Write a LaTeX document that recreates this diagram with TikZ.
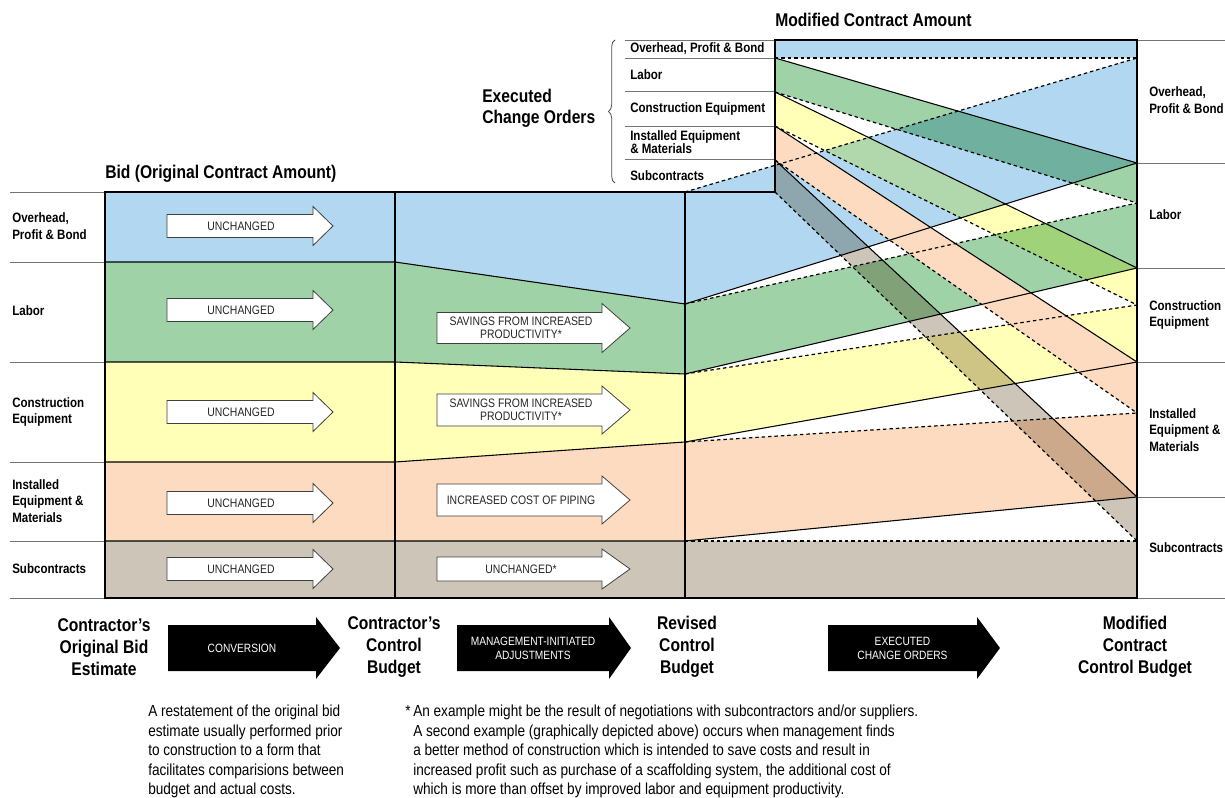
\documentclass[tikz,border=0pt]{standalone}
\usepackage{fontspec}
\setmainfont{Liberation Sans}[FakeStretch=0.85]
\usetikzlibrary{decorations.pathreplacing}

\definecolor{ohblue}{RGB}{177,216,240}
\definecolor{labgreen}{RGB}{160,210,168}
\definecolor{ceyellow}{RGB}{255,255,184}
\definecolor{iempeach}{RGB}{253,219,192}
\definecolor{subgray}{RGB}{206,197,185}

\begin{document}
\begin{tikzpicture}[x=0.75pt,y=-0.75pt,
  frame/.style={line width=1.6pt,line join=miter},
  divider/.style={line width=0.8pt},
  dashdiv/.style={line width=0.9pt,dash pattern=on 2.6pt off 2.2pt},
  sideline/.style={line width=0.7pt,black!55},
  arrowbox/.style={fill=white,draw=black!75,line width=0.6pt},
  rowlabel/.style={anchor=west,align=left,inner sep=0pt,font=\fontsize{10.2}{12.6}\selectfont\bfseries},
  titletext/.style={anchor=west,align=left,inner sep=0pt,font=\fontsize{13.8}{16}\selectfont\bfseries},
  stagelabel/.style={align=center,inner sep=0pt,font=\fontsize{13.8}{16.5}\selectfont\bfseries},
  arrowtext/.style={align=center,inner sep=0pt,text=black!85,font=\fontsize{9.2}{9.8}\selectfont},
  blacktext/.style={align=center,inner sep=0pt,text=white,font=\fontsize{9}{10.5}\selectfont},
  notetext/.style={anchor=north west,align=left,inner sep=0pt,font=\fontsize{12}{14.6}\selectfont}]

\useasboundingbox (0,0) rectangle (1225,798);

% bid column
\foreach \ya/\yb/\col in {192/262/ohblue,262/362/labgreen,362/462/ceyellow,462/541/iempeach,541/598/subgray}
  \fill[\col] (105,\ya) rectangle (395,\yb);

% control budget
\fill[ohblue] (395,192) -- (685,192) -- (685,304) -- (395,262) -- cycle;
\fill[labgreen] (395,262) -- (685,304) -- (685,374) -- (395,362) -- cycle;
\fill[ceyellow] (395,362) -- (685,374) -- (685,442) -- (395,462) -- cycle;
\fill[iempeach] (395,462) -- (685,442) -- (685,541) -- (395,541) -- cycle;
\fill[subgray] (395,541) -- (685,541) -- (685,598) -- (395,598) -- cycle;

% revised budget carried over
\fill[ohblue] (685,192) -- (1137,58) -- (1137,163) -- (685,304) -- cycle;
\fill[labgreen] (685,304) -- (1137,203) -- (1137,268) -- (685,374) -- cycle;
\fill[ceyellow] (685,374) -- (1137,305) -- (1137,362) -- (685,442) -- cycle;
\fill[iempeach] (685,442) -- (1137,413) -- (1137,497) -- (685,541) -- cycle;
\fill[subgray] (685,541) -- (1137,541) -- (1137,598) -- (685,598) -- cycle;

% change orders
\fill[ohblue] (775,40) rectangle (1137,58);
\fill[iempeach] (775,126) -- (1137,362) -- (1137,413) -- (775,160) -- cycle;
\begin{scope}[blend mode=multiply]
  \fill[labgreen] (775,58) -- (1137,163) -- (1137,203) -- (775,92) -- cycle;
  \fill[ceyellow] (775,92) -- (1137,268) -- (1137,305) -- (775,126) -- cycle;
  \fill[subgray] (775,160) -- (1137,497) -- (1137,541) -- (775,192) -- cycle;
\end{scope}

% boundaries
\foreach \ya/\yb/\yc in {262/304/163,362/374/268,462/442/362,541/541/497}
  \draw[divider] (105,\ya) -- (395,\ya) -- (685,\yb) -- (1137,\yc);
\foreach \ya/\yb in {58/163,92/268,126/362,160/497}
  \draw[divider] (775,\ya) -- (1137,\yb);
\foreach \ya/\yb in {192/58,304/203,374/305,442/413,541/541}
  \draw[dashdiv] (685,\ya) -- (1137,\yb);
\foreach \ya/\yb in {58/58,92/203,126/305,160/413,192/541}
  \draw[dashdiv] (775,\ya) -- (1137,\yb);

\foreach \y in {192,262,362,462,541,598} \draw[sideline] (10,\y) -- (105,\y);
\foreach \y in {40,163,268,362,497,598} \draw[sideline] (1137,\y) -- (1225,\y);
\foreach \y in {40,58,91,126,159} \draw[sideline] (625,\y) -- (775,\y);

\draw[frame] (105,598) -- (105,192) -- (775,192) -- (775,40) -- (1137,40) -- (1137,598) -- cycle;
\draw[frame] (395,192) -- (395,598) (685,192) -- (685,598);

\draw[black!70,line width=0.6pt,decorate,decoration={brace,amplitude=5pt}] (615,183) -- (615,40);

% arrows in the columns
\foreach \y/\nm in {226/oh,310/lab,412/ce,503/iem,569/sub} {
  \draw[arrowbox] (167,{\y-11.5}) -- (313,{\y-11.5}) -- (313,{\y-19.5}) -- (333,\y) -- (313,{\y+19.5}) -- (313,{\y+11.5}) -- (167,{\y+11.5}) -- cycle;
  \node[arrowtext] (bid-\nm) at (241,\y) {UNCHANGED};
}
\foreach \y/\bh/\hh/\nm/\txt in {328/15.5/24.5/lab/{SAVINGS FROM INCREASED\\PRODUCTIVITY*},410/16/24/ce/{SAVINGS FROM INCREASED\\PRODUCTIVITY*},500/16/24/iem/{INCREASED COST OF PIPING},569/12/20/sub/{UNCHANGED*}} {
  \draw[arrowbox] (437,{\y-\bh}) -- (602,{\y-\bh}) -- (602,{\y-\hh}) -- (630,\y) -- (602,{\y+\hh}) -- (602,{\y+\bh}) -- (437,{\y+\bh}) -- cycle;
  \node[arrowtext] (ctl-\nm) at (521,\y) {\txt};
}

% stage arrows
\foreach \xa/\xb/\xc/\nm/\txt in {168/316/340/conv/{CONVERSION},457/609/631/mgmt/{MANAGEMENT-INITIATED\\ADJUSTMENTS},828/977/1000/exec/{EXECUTED\\CHANGE ORDERS}} {
  \fill (\xa,625) -- (\xb,625) -- (\xb,617) -- (\xc,648) -- (\xb,679) -- (\xb,671) -- (\xa,671) -- cycle;
  \node[blacktext] (\nm) at ({(\xa+\xb)/2},648) {\txt};
}

% titles
\node[titletext] (bid-title) at (105,174) {Bid (Original Contract Amount)};
\node[titletext] (mod-title) at (775,20) {Modified Contract Amount};
\node[titletext] (co-title) at (482,108) {Executed\\Change Orders};

% row labels
\node[rowlabel] (l-oh) at (12,226) {Overhead,\\Profit \& Bond};
\node[rowlabel] (l-lab) at (12,311) {Labor};
\node[rowlabel] (l-ce) at (12,412) {Construction\\Equipment};
\node[rowlabel] (l-iem) at (12,501) {Installed\\Equipment \&\\Materials};
\node[rowlabel] (l-sub) at (12,569) {Subcontracts};

\node[rowlabel] (r-oh) at (1149,100) {Overhead,\\Profit \& Bond};
\node[rowlabel] (r-lab) at (1149,215) {Labor};
\node[rowlabel] (r-ce) at (1149,315) {Construction\\Equipment};
\node[rowlabel] (r-iem) at (1149,430) {Installed\\Equipment \&\\Materials};
\node[rowlabel] (r-sub) at (1149,548) {Subcontracts};

\node[rowlabel] (c-oh) at (630,49) {Overhead, Profit \& Bond};
\node[rowlabel] (c-lab) at (630,75) {Labor};
\node[rowlabel] (c-ce) at (630,109) {Construction Equipment};
\node[rowlabel,font=\fontsize{10.2}{10}\selectfont\bfseries] (c-iem) at (630,142) {Installed Equipment\\\& Materials};
\node[rowlabel] (c-sub) at (630,176) {Subcontracts};

% stage labels
\node[stagelabel] (orig-est) at (104,647) {Contractor's\\Original Bid\\Estimate};
\node[stagelabel] (ctl-bud) at (394,647) {Contractor's\\Control\\Budget};
\node[stagelabel] (rev-bud) at (687,647) {Revised\\Control\\Budget};
\node[stagelabel] (mod-bud) at (1135,647) {Modified\\Contract\\Control Budget};

% notes
\node[notetext] (note-conv) at (148,705) {A restatement of the original bid\\estimate usually performed prior\\to construction to a form that\\facilitates comparisions between\\budget and actual costs.};
\node[notetext] (note-star) at (405,705) {*};
\node[notetext] (note-mgmt) at (413,705) {An example might be the result of negotiations with subcontractors and/or suppliers.\\A second example (graphically depicted above) occurs when management finds\\a better method of construction which is intended to save costs and result in\\increased profit such as purchase of a scaffolding system, the additional cost of\\which is more than offset by improved labor and equipment productivity.};
\end{tikzpicture}
\end{document}
